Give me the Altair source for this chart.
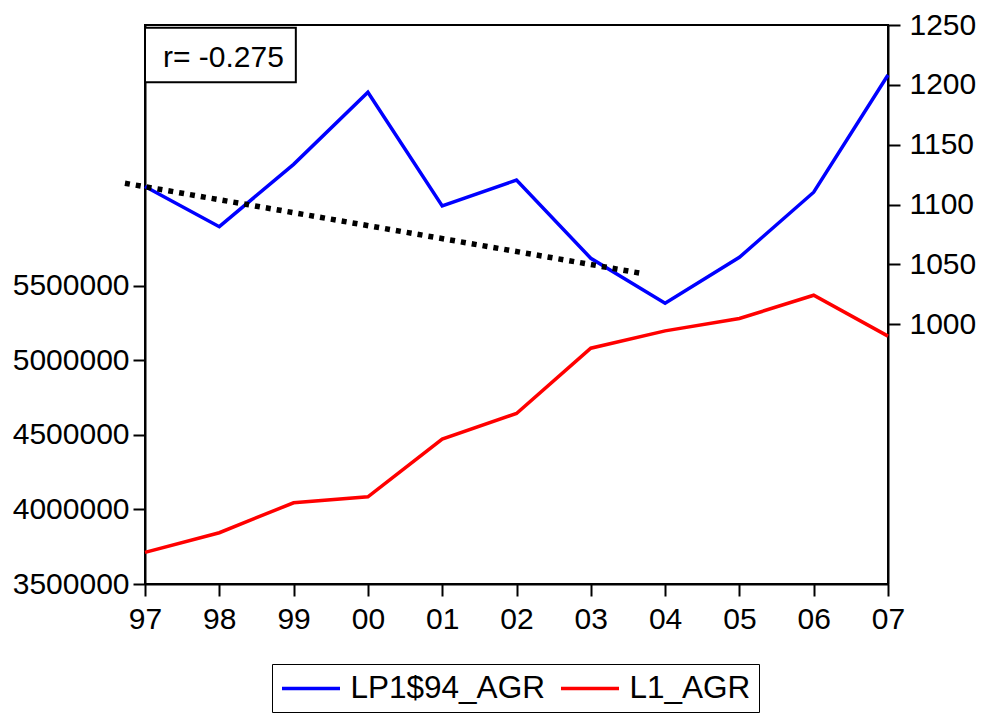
import altair as alt
import pandas as pd

# Annual observations, 1997-2007
years = list(range(1997, 2008))
lp1_agr = [1115.1, 1081.5, 1133.6, 1193.8, 1098.8, 1120.5, 1055.1, 1017.5, 1055.9, 1110.3, 1208.2]
l1_agr = [3712500, 3844000, 4045000, 4085000, 4472000, 4644000, 5082000, 5198000, 5281000, 5437000, 5163000]

# Fitted trend segment (right-axis units)
trend_years = [1996.73, 2003.73]
trend_values = [1117.8, 1042.0]

# Correlation note box (year / right-axis units)
note_text = "r= -0.275"
note_x = [1997.0, 1999.03]
note_y = [1247.7, 1202.2]
note_anchor = [1998.055, 1222.2]

series_names = ["LP1$94_AGR", "L1_AGR"]
series_colors = ["#0000ff", "#ff0000"]

left_ticks = [3500000, 4000000, 4500000, 5000000, 5500000]
right_ticks = [1000, 1050, 1100, 1150, 1200, 1250]

FONT = "Liberation Sans"

blue_df = pd.DataFrame({"year": years, "value": lp1_agr, "series": series_names[0]})
red_df = pd.DataFrame({"year": years, "value": l1_agr, "series": series_names[1]})
trend_df = pd.DataFrame({"year": trend_years, "value": trend_values})
box_df = pd.DataFrame({"year": [note_x[0]], "year2": [note_x[1]], "value": [note_y[0]], "value2": [note_y[1]]})
text_df = pd.DataFrame({"year": [note_anchor[0]], "value": [note_anchor[1]], "label": [note_text]})

x_scale = alt.Scale(domain=[1997, 2007], nice=False, zero=False)
right_scale = alt.Scale(domain=[783, 1250], nice=False, zero=False)
left_scale = alt.Scale(domain=[3500000, 7250000], nice=False, zero=False)

color = alt.Color(
    "series:N",
    scale=alt.Scale(domain=series_names, range=series_colors),
    sort=series_names,
    legend=alt.Legend(
        title=None,
        orient="none",
        legendX=127,
        legendY=639,
        direction="horizontal",
        symbolType="M-2,0H2",
        symbolSize=841,
        symbolOffset=14.5,
        symbolStrokeWidth=3.5,
        labelOffset=23,
        labelFont=FONT,
        labelFontSize=31.5,
        labelColor="black",
        labelLimit=0,
        columnPadding=9,
        padding=8,
        strokeColor="black",
        fillColor="white",
    ),
)

x_axis = alt.Axis(
    values=years,
    labelExpr="slice(toString(datum.value), 2)",
    title=None,
    tickSize=12,
    labelPadding=8,
    labelFontSize=30,
    labelFlush=False,
)

left_axis = alt.Axis(
    orient="left",
    values=left_ticks,
    format="d",
    title=None,
    tickSize=12,
    labelPadding=4,
    labelFontSize=30,
)

right_axis = alt.Axis(
    orient="right",
    values=right_ticks,
    format="d",
    title=None,
    tickSize=12,
    labelPadding=9,
    labelFontSize=30,
)

X = alt.X("year:Q", scale=x_scale, axis=x_axis)
Y_RIGHT = alt.Y("value:Q", scale=right_scale, axis=right_axis)

red_line = alt.Chart(red_df).mark_line(strokeWidth=3.5, clip=False).encode(
    x=X,
    y=alt.Y("value:Q", scale=left_scale, axis=left_axis),
    color=color,
)

blue_line = alt.Chart(blue_df).mark_line(strokeWidth=3.5, clip=False).encode(
    x=X, y=Y_RIGHT, color=color
)

trend_line = alt.Chart(trend_df).mark_line(
    color="black", strokeWidth=5.5, strokeDash=[5, 6], strokeCap="butt", clip=False
).encode(x=X, y=Y_RIGHT)

note_box = alt.Chart(box_df).mark_rect(fill="white", stroke="black", strokeWidth=2).encode(
    x=X, x2="year2:Q", y=Y_RIGHT, y2="value2:Q"
)

note_label = alt.Chart(text_df).mark_text(
    font=FONT, fontSize=30, color="black", align="center", baseline="middle"
).encode(x=X, y=Y_RIGHT, text="label:N")

right_group = alt.layer(blue_line, trend_line, note_box, note_label)

chart = (
    alt.layer(red_line, right_group)
    .resolve_scale(y="independent")
    .properties(
        width=743,
        height=559,
        autosize=alt.AutoSizeParams(type="none"),
        padding={"left": 145, "top": 25, "right": 97, "bottom": 131},
        background="white",
    )
    .configure_view(stroke="black", strokeWidth=2)
    .configure_axis(
        grid=False,
        domainColor="black",
        domainWidth=2,
        tickColor="black",
        tickWidth=2,
        labelColor="black",
        labelFont=FONT,
    )
)

chart.save("out.html", embed_options={"renderer": "svg", "actions": False})
